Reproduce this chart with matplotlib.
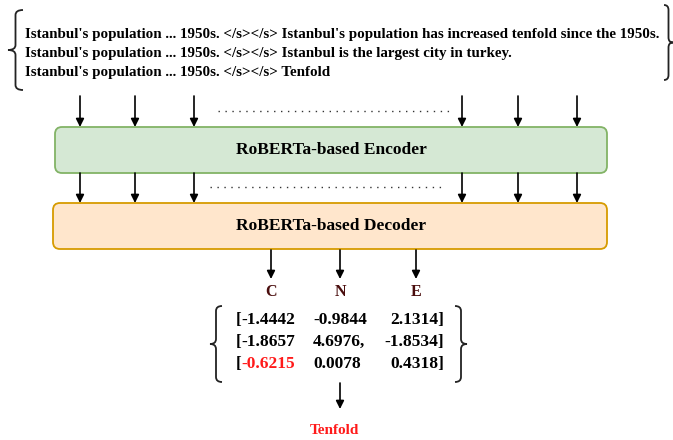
import matplotlib.pyplot as plt
from matplotlib.patches import FancyBboxPatch, PathPatch
from matplotlib.path import Path

# input sentences fed to the encoder
input_lines = [
    "Istanbul's population ... 1950s. </s></s> Istanbul's population has increased tenfold since the 1950s.",
    "Istanbul's population ... 1950s. </s></s> Istanbul is the largest city in turkey.",
    "Istanbul's population ... 1950s. </s></s> Tenfold",
]
encoder_label = "RoBERTa-based Encoder"
decoder_label = "RoBERTa-based Decoder"
classes = ["C", "N", "E"]
# logits matrix, as printed
logits = [
    ["-1.4442", "-0.9844", "2.1314]"],
    ["-1.8657", "4.6976,", "-1.8534]"],
    ["-0.6215", "0.0078", "0.4318]"],
]
highlight_row = 2
answer = "Tenfold"

W, H = 673, 440
fig = plt.figure(figsize=(W / 100, H / 100), dpi=100)
ax = fig.add_axes([0, 0, 1, 1])
ax.set_xlim(0, W)
ax.set_ylim(H, 0)
ax.axis("off")

serif = dict(family="Liberation Serif", weight="bold")


def arrow(x, y0, y1):
    ax.annotate("", xy=(x, y1), xytext=(x, y0),
                arrowprops=dict(arrowstyle="-|>", color="black", lw=1.2,
                                mutation_scale=12, shrinkA=0, shrinkB=0))


def brace(x_tip, x_end, y0, y1):
    # curly brace; tip at x_tip, ends at x_end
    xm = (x_tip + x_end) / 2
    ym = (y0 + y1) / 2
    r = 5
    verts = [(x_end, y0), (xm, y0), (xm, y0 + r),
             (xm, ym - r),
             (xm, ym), (x_tip, ym),
             (xm, ym), (xm, ym + r),
             (xm, y1 - r),
             (xm, y1), (x_end, y1)]
    codes = [Path.MOVETO, Path.CURVE3, Path.CURVE3,
             Path.LINETO,
             Path.CURVE3, Path.CURVE3,
             Path.CURVE3, Path.CURVE3,
             Path.LINETO,
             Path.CURVE3, Path.CURVE3]
    ax.add_patch(PathPatch(Path(verts, codes), fill=False, lw=1.3, color="#222222"))


# input text block
for i, line in enumerate(input_lines):
    ax.text(25, 38 + i * 19, line, fontsize=10.85, va="baseline", ha="left", **serif)
brace(8, 23, 10, 90)
brace(673, 664, 5, 80)

# arrows into encoder / decoder
cols_x = [80, 135, 194, 462, 518, 577]
for x in cols_x:
    arrow(x, 96, 127)
    arrow(x, 173, 203)
ax.plot([218, 452], [111, 111], ls=(0, (1, 4)), color="#333333", lw=1.0)
ax.plot([210, 445], [187, 187], ls=(0, (1, 4)), color="#333333", lw=1.0)

# encoder / decoder boxes
ax.add_patch(FancyBboxPatch((55, 127), 552, 46, boxstyle="round,pad=0,rounding_size=7",
                            fc="#d5e8d4", ec="#82b366", lw=1.3))
ax.text(331, 150, encoder_label, fontsize=12.5, ha="center", va="center", **serif)
ax.add_patch(FancyBboxPatch((53, 203), 554, 46, boxstyle="round,pad=0,rounding_size=7",
                            fc="#ffe6cc", ec="#d79b00", lw=1.3))
ax.text(331, 226, decoder_label, fontsize=12.5, ha="center", va="center", **serif)

# class heads
class_x = [271, 340, 416]
for x, c in zip(class_x, classes):
    arrow(x, 250, 279)
    ax.text(x, 292, c, fontsize=11.5, ha="center", va="center", color="#4a0d0d", **serif)

# logits matrix
row_y = [320, 342, 364]
fig.canvas.draw()
rend = fig.canvas.get_renderer()
for r, (y, row) in enumerate(zip(row_y, logits)):
    b = ax.text(236, y, "[", fontsize=12.5, ha="left", va="center", **serif)
    bw = b.get_window_extent(rend).width
    ax.text(236 + bw, y, row[0], fontsize=12.5, ha="left", va="center",
            color="#ff1a1a" if r == highlight_row else "black", **serif)
    ax.text(313, y, row[1], fontsize=12.5, ha="left", va="center", **serif)
    ax.text(444, y, row[2], fontsize=12.5, ha="right", va="center", **serif)
brace(210, 222, 306, 382)
brace(467, 455, 306, 382)

arrow(340, 383, 409)
ax.text(334, 430, answer, fontsize=11, ha="center", va="center", color="#ff1a1a", **serif)

fig.savefig("out.png", dpi=100)
